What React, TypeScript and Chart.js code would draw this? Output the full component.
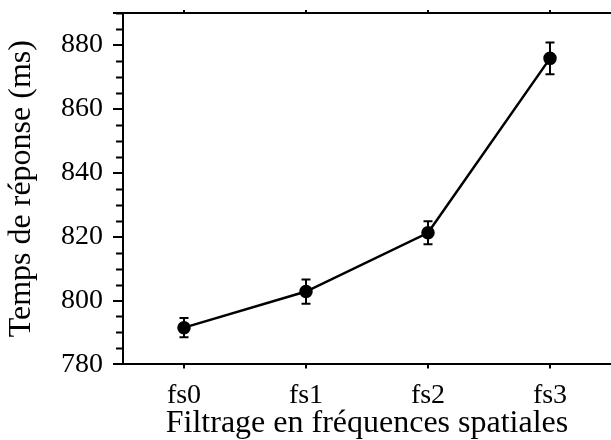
import React, { useEffect, useRef } from 'react';
import { Chart, registerables } from 'chart.js';

Chart.register(...registerables);

const categories = ['fs0', 'fs1', 'fs2', 'fs3'];
const meanRT = [791.5, 802.8, 821.2, 875.8];
const errRT = [3.0, 3.8, 3.6, 5.0];
const yMin = 780;
const yMax = 890;
const yMajorStep = 20;
const yMinorStep = 5;
const xTitle = 'Filtrage en fréquences spatiales';
const yTitle = 'Temps de réponse (ms)';

const FONT = "'Liberation Serif', 'Times New Roman', serif";
const TICK_SIZE = 28;
const TITLE_SIZE = 32;

const errorBarPlugin = {
  id: 'errorBars',
  afterDatasetsDraw(chart: any) {
    const { ctx } = chart;
    const xs = chart.scales.x;
    const ys = chart.scales.y;
    ctx.save();
    ctx.strokeStyle = '#000';
    ctx.lineWidth = 2;
    meanRT.forEach((m, i) => {
      const x = xs.getPixelForValue(i);
      const yt = ys.getPixelForValue(m + errRT[i]);
      const yb = ys.getPixelForValue(m - errRT[i]);
      const cap = 4.5;
      ctx.beginPath();
      ctx.moveTo(x, yt);
      ctx.lineTo(x, yb);
      ctx.moveTo(x - cap, yt);
      ctx.lineTo(x + cap, yt);
      ctx.moveTo(x - cap, yb);
      ctx.lineTo(x + cap, yb);
      ctx.stroke();
    });
    ctx.restore();
  },
};

const minorTickPlugin = {
  id: 'minorTicks',
  afterDraw(chart: any) {
    const { ctx } = chart;
    const ys = chart.scales.y;
    const left = chart.chartArea.left;
    ctx.save();
    ctx.strokeStyle = '#000';
    ctx.lineWidth = 2;
    for (let v = yMin; v <= yMax; v += yMinorStep) {
      if ((v - yMin) % yMajorStep === 0) continue;
      const y = Math.round(ys.getPixelForValue(v)) + 0.5;
      ctx.beginPath();
      ctx.moveTo(left - 7, y);
      ctx.lineTo(left, y);
      ctx.stroke();
    }
    ctx.restore();
  },
};

export default function App() {
  const ref = useRef<HTMLCanvasElement | null>(null);
  useEffect(() => {
    if (!ref.current) return;
    const chart = new Chart(ref.current, {
      type: 'line',
      data: {
        labels: categories,
        datasets: [
          {
            data: meanRT,
            borderColor: '#000',
            backgroundColor: '#000',
            borderWidth: 2.5,
            pointRadius: 5.5,
            pointBackgroundColor: '#000',
            pointBorderColor: '#000',
            tension: 0,
          },
        ],
      },
      options: {
        responsive: false,
        animation: false,
        layout: { autoPadding: false, padding: { left: 6, right: 0, top: 10, bottom: 0 } },
        plugins: { legend: { display: false }, tooltip: { enabled: false } },
        scales: {
          x: {
            type: 'category',
            offset: true,
            grid: { display: true, drawOnChartArea: false, offset: false, tickLength: 4, color: '#000', lineWidth: 2 },
            border: { display: true, color: '#000', width: 2 },
            ticks: { color: '#000', font: { family: FONT, size: TICK_SIZE }, padding: 10 },
            title: { display: true, text: xTitle, color: '#000', font: { family: FONT, size: TITLE_SIZE, lineHeight: 1 }, padding: { top: -14, bottom: 0 } },
          },
          x2: {
            type: 'category',
            labels: categories,
            position: 'top',
            offset: true,
            grid: { display: true, drawOnChartArea: false, offset: false, tickLength: 3, color: '#000', lineWidth: 2 },
            border: { display: true, color: '#000', width: 2 },
            ticks: { display: false },
          },
          y: {
            min: yMin,
            max: yMax,
            afterFit: (scale: any) => {
              scale.paddingTop = 0;
            },
            grid: { display: true, drawOnChartArea: false, tickLength: 10, color: '#000', lineWidth: 2 },
            border: { display: true, color: '#000', width: 2 },
            ticks: {
              stepSize: yMajorStep,
              color: '#000',
              font: { family: FONT, size: TICK_SIZE },
              padding: 10,
              callback: (v: any) => ((v - yMin) % yMajorStep === 0 ? String(v) : ''),
            },
            title: { display: true, text: yTitle, color: '#000', font: { family: FONT, size: TITLE_SIZE, lineHeight: 1 }, padding: { top: 0, bottom: 13 } },
          },
        },
      },
      plugins: [errorBarPlugin, minorTickPlugin],
    });
    return () => chart.destroy();
  }, []);
  return (
    <div style={{ position: 'absolute', left: 0, top: 0, width: 611, height: 440, background: '#fff' }}>
      <canvas ref={ref} width={611} height={440} />
    </div>
  );
}
